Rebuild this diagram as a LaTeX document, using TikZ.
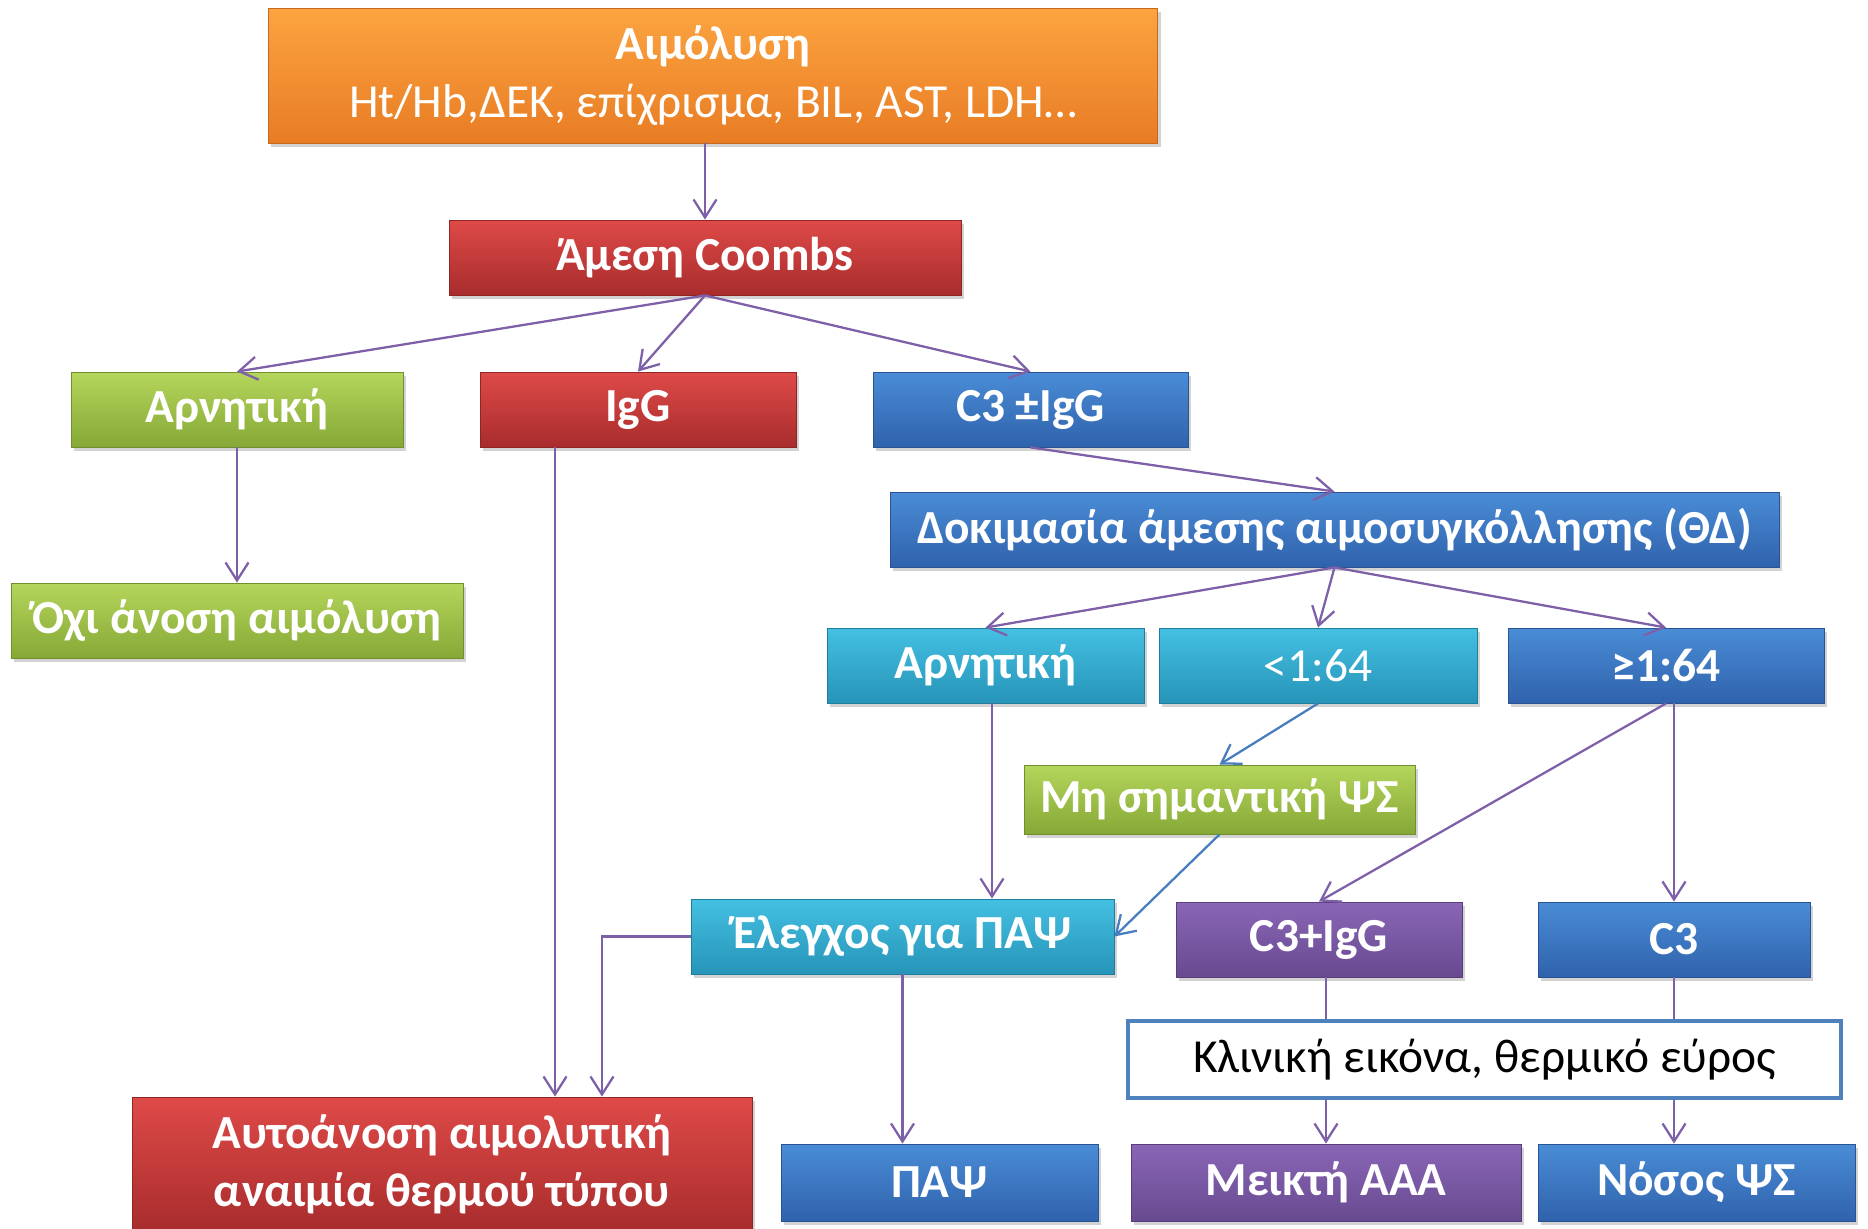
\documentclass[tikz,border=0pt]{standalone}
\usepackage{fontspec}
\setmainfont{Carlito}
\usetikzlibrary{arrows.meta,shadows,calc}
\definecolor{orangetop}{RGB}{252,164,64}
\definecolor{orangebot}{RGB}{232,124,36}
\definecolor{redtop}{RGB}{222,74,72}
\definecolor{redbot}{RGB}{168,44,44}
\definecolor{greentop}{RGB}{180,214,92}
\definecolor{greenbot}{RGB}{134,168,54}
\definecolor{bluetop}{RGB}{74,140,214}
\definecolor{bluebot}{RGB}{48,98,172}
\definecolor{cyantop}{RGB}{68,192,226}
\definecolor{cyanbot}{RGB}{38,148,184}
\definecolor{purpletop}{RGB}{138,102,182}
\definecolor{purplebot}{RGB}{104,74,144}
\definecolor{linkpurple}{RGB}{126,96,168}
\definecolor{linkblue}{RGB}{72,126,192}
\definecolor{clinborder}{RGB}{79,129,189}
\newcommand\flowfont{\fontsize{27}{33}\selectfont}
\tikzset{
  box/.style={
    rectangle,
    align=center,
    text=white,
    font=\flowfont\bfseries,
    inner sep=2pt,
    minimum height=1.5cm,
    line width=0.5pt,
    drop shadow={opacity=0.35,shadow xshift=1.5pt,shadow yshift=-2.5pt}
  },
  orangebox/.style={box, top color=orangetop, bottom color=orangebot, draw=orangebot!85!black},
  redbox/.style={box, top color=redtop, bottom color=redbot, draw=redbot!85!black},
  greenbox/.style={box, top color=greentop, bottom color=greenbot, draw=greenbot!85!black},
  bluebox/.style={box, top color=bluetop, bottom color=bluebot, draw=bluebot!85!black},
  cyanbox/.style={box, top color=cyantop, bottom color=cyanbot, draw=cyanbot!85!black},
  purplebox/.style={box, top color=purpletop, bottom color=purplebot, draw=purplebot!85!black},
  plainbox/.style={
    rectangle,
    align=center,
    draw=clinborder,
    line width=2.3pt,
    fill=white,
    font=\flowfont,
    minimum height=1.54cm
  },
  link/.style={-{Straight Barb[length=3.6mm,width=4.6mm]}, line width=1.3pt, draw=linkpurple},
  bluelink/.style={link, draw=linkblue},
  line/.style={line width=1.3pt, draw=linkpurple}
}

\begin{document}
\begin{tikzpicture}[x=0.02cm,y=-0.02cm]
    \useasboundingbox (0,0) rectangle (1868,1229);

    \node[orangebox, minimum width=17.8cm, minimum height=2.7cm] (hemo) at (713,75.5)
      {Αιμόλυση\\{\mdseries Ht/Hb,ΔΕΚ, επίχρισμα, BIL, AST, LDH…}};
    \node[redbox, minimum width=10.24cm] (coombs) at (705,257.5) {Άμεση Coombs};

    \node[greenbox, minimum width=6.64cm] (negA) at (237,409.5) {Αρνητική};
    \node[redbox, minimum width=6.32cm] (igg) at (638,409.5) {IgG};
    \node[bluebox, minimum width=6.3cm] (cthree) at (1030.5,409.5) {C3 ±IgG};

    \node[bluebox, minimum width=17.78cm] (dat) at (1334.5,529.5)
      {Δοκιμασία άμεσης αιμοσυγκόλλησης (ΘΔ)};
    \node[greenbox, minimum width=9.04cm] (noaih) at (237,620.5) {Όχι άνοση αιμόλυση};

    \node[cyanbox, minimum width=6.34cm] (negB) at (985.5,665.5) {Αρνητική};
    \node[cyanbox, minimum width=6.36cm, font=\flowfont] (low) at (1318,665.5) {<1:64};
    \node[bluebox, minimum width=6.32cm] (high) at (1666,665.5) {≥1:64};

    \node[greenbox, minimum width=7.82cm, minimum height=1.38cm] (nonsig) at (1219.5,799.5)
      {Μη σημαντική ΨΣ};

    \node[cyanbox, minimum width=8.46cm] (pch) at (902.5,936.5) {Έλεγχος για ΠΑΨ};
    \node[purplebox, minimum width=5.72cm] (mixed) at (1319,939.5) {C3+IgG};
    \node[bluebox, minimum width=5.44cm] (cthreeonly) at (1674,939.5) {C3};

    \node[plainbox, minimum width=14.26cm] (clin) at (1484.5,1059.5)
      {Κλινική εικόνα, θερμικό εύρος};

    \node[redbox, minimum width=12.4cm, minimum height=2.7cm] (waiha) at (442,1164.5)
      {Αυτοάνοση αιμολυτική\\αναιμία θερμού τύπου};
    \node[bluebox, minimum width=6.34cm, minimum height=1.54cm] (pchdis) at (939.5,1182.5) {ΠΑΨ};
    \node[purplebox, minimum width=7.8cm, minimum height=1.54cm] (mixaih) at (1326,1182.5) {Μεικτή ΑΑΑ};
    \node[bluebox, minimum width=6.34cm, minimum height=1.54cm] (cad) at (1696.5,1182.5) {Νόσος ΨΣ};

    \draw[link] (hemo.south -| coombs.north) -- (coombs.north);
    \draw[link] (coombs.south) -- (negA.north);
    \draw[link] (coombs.south) -- (igg.north);
    \draw[link] (coombs.south) -- (cthree.north);
    \draw[link] (negA.south) -- (noaih.north);
    \draw[link] ([xshift=-1.66cm]igg.south) -- ([xshift=-1.66cm]igg.south |- waiha.north);
    \draw[link] (cthree.south) -- (dat.north);
    \draw[link] (dat.south) -- (negB.north);
    \draw[link] (dat.south) -- (low.north);
    \draw[link] (dat.south) -- (high.north);
    \draw[link] ([xshift=0.13cm]negB.south) -- ([xshift=0.13cm]negB.south |- pch.north);
    \draw[bluelink] (low.south) -- (nonsig.north);
    \draw[bluelink] (nonsig.south) -- (pch.east);
    \draw[link] (high.south) -- (mixed.north);
    \draw[link] (cthreeonly.north |- high.south) -- (cthreeonly.north);
    \draw[link] (pch.west) -| ([xshift=3.2cm]waiha.north);
    \draw[link] (pch.south) -- (pch.south |- pchdis.north);
    \draw[line] (mixaih.north |- mixed.south) -- (mixaih.north |- clin.north);
    \draw[link] (mixaih.north |- clin.south) -- (mixaih.north);
    \draw[line] (cthreeonly.south) -- (cthreeonly.south |- clin.north);
    \draw[link] (cthreeonly.south |- clin.south) -- (cthreeonly.south |- cad.north);
  \end{tikzpicture}
\end{document}
